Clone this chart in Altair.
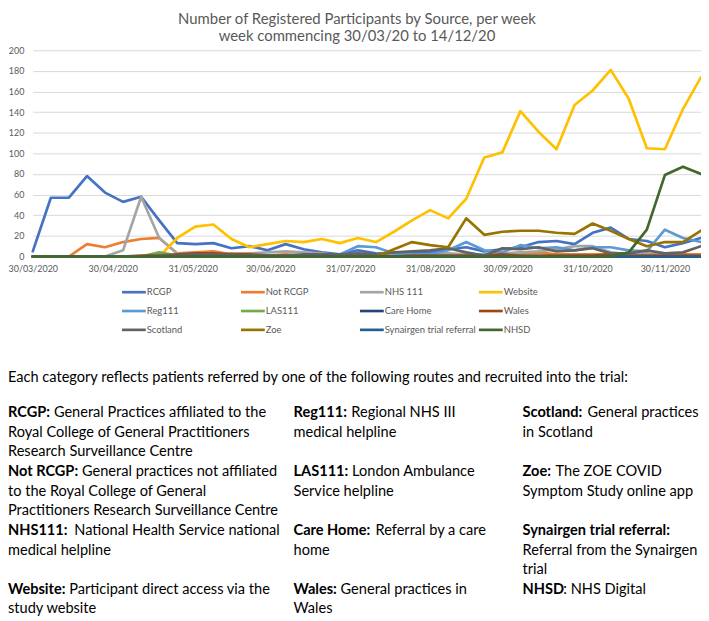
import altair as alt
import pandas as pd

# ---------------- data ----------------
start_date = "2020-03-30"
end_date = "2020-12-14"
n_weeks = 38

series_names = ["RCGP", "Not RCGP", "NHS 111", "Website",
                "Reg111", "LAS111", "Care Home", "Wales",
                "Scotland", "Zoe", "Synairgen trial referral", "NHSD"]
series_colors = ["#4472C4", "#ED7D31", "#A5A5A5", "#FFC000",
                 "#5B9BD5", "#70AD47", "#264478", "#9E480E",
                 "#636363", "#997300", "#255E91", "#43682B"]

rcgp = [5, 57, 57, 78, 62, 53, 58, 35, 13, 12, 13, 8, 10, 6, 12, 7, 4, 2, 6, 3,
        2, 3, 4, 7, 9, 5, 7, 9, 14, 15, 12, 23, 28, 17, 15, 9, 13, 18]
not_rcgp = [0, 0, 0, 12, 9, 14, 17, 18, 3, 4, 5, 2, 1, 1, 2, 1, 1, 0, 1, 1,
            0, 1, 1, 2, 1, 2, 3, 3, 4, 2, 2, 2, 2, 2, 3, 1, 2, 2]
nhs111 = [0, 0, 0, 0, 0, 6, 58, 18, 3, 2, 2, 3, 3, 4, 5, 4, 3, 1, 2, 2,
          2, 1, 2, 3, 2, 2, 3, 4, 5, 7, 10, 10, 4, 2, 2, 1, 1, 1]
website = [0, 0, 0, 0, 0, 0, 0, 0, 18, 29, 31, 17, 9, 12, 15, 14, 17, 13, 18, 14,
           24, 35, 45, 37, 56, 96, 101, 141, 121, 104, 147, 161, 181, 153, 105, 104, 143, 174]
reg111 = [0, 0, 0, 0, 0, 0, 0, 0, 0, 0, 1, 1, 1, 1, 1, 1, 1, 2, 10, 9,
          3, 2, 2, 6, 14, 6, 4, 11, 8, 9, 6, 9, 9, 6, 5, 26, 18, 14]
las111 = [0, 0, 0, 0, 0, 0, 0, 4, 1, 0, 0, 0, 0, 0, 0, 0, 0, 0, 0, 0,
          0, 0, 0, 0, 0, 0, 0, 0, 0, 0, 0, 0, 0, 0, 0, 0, 0, 0]
care_home = [0, 0, 0, 0, 0, 0, 0, 0, 0, 0, 0, 0, 0, 0, 0, 0, 0, 0, 0, 0,
             0, 0, 0, 0, 0, 0, 0, 0, 0, 0, 0, 0, 0, 0, 0, 0, 0, 0]
wales = [0, 0, 0, 0, 0, 0, 1, 1, 2, 3, 3, 2, 2, 1, 1, 1, 1, 1, 1, 1,
         0, 1, 1, 1, 1, 1, 2, 1, 1, 1, 1, 1, 2, 1, 1, 1, 1, 1]
scotland = [0, 0, 0, 0, 0, 0, 0, 1, 1, 2, 2, 1, 1, 1, 1, 2, 2, 2, 3, 2,
            4, 5, 6, 8, 4, 1, 8, 7, 9, 5, 6, 8, 3, 3, 6, 3, 4, 10]
zoe = [0, 0, 0, 0, 0, 0, 0, 0, 0, 0, 0, 0, 0, 0, 0, 0, 0, 0, 0, 0,
       7, 14, 11, 9, 37, 21, 24, 25, 25, 23, 22, 32, 25, 17, 10, 14, 14, 25]
synairgen = [0, 0, 0, 0, 0, 0, 0, 0, 0, 0, 0, 0, 0, 0, 0, 0, 0, 0, 0, 0,
             0, 0, 0, 0, 0, 0, 0, 0, 0, 0, 0, 0, 0, 0, 0, 0, 0, 0]
nhsd = [0, 0, 0, 0, 0, 0, 0, 0, 0, 0, 0, 0, 0, 0, 0, 0, 0, 0, 0, 0,
        0, 0, 0, 0, 0, 0, 0, 0, 0, 0, 0, 0, 0, 4, 26, 79, 87, 80]

series_values = [rcgp, not_rcgp, nhs111, website, reg111, las111, care_home,
                 wales, scotland, zoe, synairgen, nhsd]

x_tick_labels = ["30/03/2020", "30/04/2020", "31/05/2020", "30/06/2020", "31/07/2020",
                 "31/08/2020", "30/09/2020", "31/10/2020", "30/11/2020"]
y_ticks = [0, 20, 40, 60, 80, 100, 120, 140, 160, 180, 200]

title_lines = ["Number of Registered Participants by Source, per week",
               "week commencing 30/03/20 to 14/12/20"]

intro_text = ("Each category reflects patients referred by one of the following "
              "routes and recruited into the trial:")

# (column, first line, bold label, normal lines)
notes = [
    (0, 0, "RCGP:", ["General Practices affiliated to the",
                     "Royal College of General Practitioners",
                     "Research Surveillance Centre"]),
    (0, 3, "Not RCGP:", ["General practices not affiliated",
                         "to the Royal College of General",
                         "Practitioners Research Surveillance Centre"]),
    (0, 6, "NHS111:", ["National Health Service national", "medical helpline"]),
    (0, 9, "Website:", ["Participant direct access via the", "study website"]),
    (1, 0, "Reg111:", ["Regional NHS III", "medical helpline"]),
    (1, 3, "LAS111:", ["London Ambulance", "Service helpline"]),
    (1, 6, "Care Home:", ["Referral by a care", "home"]),
    (1, 9, "Wales:", ["General practices in", "Wales"]),
    (2, 0, "Scotland:", ["General practices", "in Scotland"]),
    (2, 3, "Zoe:", ["The ZOE COVID", "Symptom Study online app"]),
    (2, 6, "Synairgen trial referral:", ["", "Referral from the Synairgen", "trial"]),
    (2, 9, "NHSD", [": NHS Digital"]),
]

# ---------------- layout helpers ----------------
W, H = 674, 208
FONT = "Lato"
BODY_SIZE = 14.7
GRAY = "#595959"

BOLD_EM = {" ": 0.21, ":": 0.27, "R": 0.66, "C": 0.66, "G": 0.70, "P": 0.62, "N": 0.75,
           "H": 0.76, "S": 0.55, "L": 0.52, "A": 0.70, "W": 0.95, "Z": 0.62, "D": 0.74,
           "a": 0.52, "e": 0.54, "o": 0.60, "m": 0.90, "r": 0.39, "t": 0.37, "s": 0.44,
           "i": 0.27, "l": 0.27, "n": 0.58, "d": 0.58, "g": 0.52, "b": 0.58, "c": 0.48,
           "y": 0.51, "k": 0.53}


def bold_width(s, size):
    w = 0.0
    for ch in s:
        if ch.isdigit():
            w += 0.58
        else:
            w += BOLD_EM.get(ch, 0.66 if ch.isupper() else 0.55)
    return w * size


rows = []
for name, vals in zip(series_names, series_values):
    assert len(vals) == n_weeks
    for i, v in enumerate(vals):
        d = (pd.Timestamp(start_date) + pd.Timedelta(days=7 * i)).strftime("%Y-%m-%d")
        rows.append({"date": d, "series": name, "value": v})
df = pd.DataFrame(rows)


def to_dt(s):
    d, m, y = s.split("/")
    return alt.DateTime(year=int(y), month=int(m), date=int(d), utc=True)


def iso_dt(s):
    y, m, d = s.split("-")
    return alt.DateTime(year=int(y), month=int(m), date=int(d), utc=True)


color_scale = alt.Scale(domain=series_names, range=series_colors)

lines = alt.Chart(df).mark_line(strokeWidth=2.7, strokeJoin="round", strokeCap="round").encode(
    x=alt.X("date:T",
            scale=alt.Scale(type="utc", domain=[iso_dt(start_date), iso_dt(end_date)], nice=False),
            axis=alt.Axis(values=[to_dt(s) for s in x_tick_labels],
                          labelExpr="utcFormat(datum.value, '%d/%m/%Y')",
                          title=None, grid=False, ticks=False, tickSize=0,
                          domainColor="#D9D9D9", domainWidth=1,
                          labelFont=FONT, labelFontSize=9, labelColor=GRAY,
                          labelPadding=8, labelOverlap=False, labelFlush=False)),
    y=alt.Y("value:Q", scale=alt.Scale(domain=[0, 200], nice=False),
            axis=alt.Axis(values=y_ticks, title=None, domain=False, ticks=False, tickSize=0,
                          gridColor="#D9D9D9", gridWidth=1,
                          labelFont=FONT, labelFontSize=9, labelColor=GRAY,
                          labelPadding=9)),
    color=alt.Color("series:N", scale=color_scale, legend=None),
)

# legend (Excel style, 4 columns x 3 rows below the axis)
leg = pd.DataFrame({"series": series_names, "idx": list(range(len(series_names)))})
leg["lx"] = 90 + (leg["idx"] % 4) * 120
leg["lx2"] = leg["lx"] + 24
leg["tx"] = leg["lx2"] + 1
leg["ly"] = 244 + (leg["idx"] // 4) * 19

legend_lines = alt.Chart(leg).mark_rule(strokeWidth=2.7).encode(
    x=alt.X("lx:Q", scale=None), x2="lx2:Q", y=alt.Y("ly:Q", scale=None),
    color=alt.Color("series:N", scale=color_scale, legend=None))
legend_text = alt.Chart(leg).mark_text(align="left", baseline="middle", font=FONT,
                                       fontSize=9.5, color=GRAY).encode(
    x=alt.X("tx:Q", scale=None), y=alt.Y("ly:Q", scale=None), text="series:N")

# title
tdf = pd.DataFrame({"text": title_lines, "y": [-32, -14]})
title = alt.Chart(tdf).mark_text(align="center", baseline="middle", font=FONT,
                                 fontSize=15, color=GRAY).encode(
    x=alt.value(W / 2 - 10), y=alt.Y("y:Q", scale=None), text="text:N")

# notes text block
col_x = [-25, 263, 494]
line_y0, line_dy = 366, 19.8
gap = 3.5
bold_rows, norm_rows = [], []
for col, first, label, body in notes:
    x0 = col_x[col]
    y0 = line_y0 + first * line_dy
    bold_rows.append({"text": label, "x": x0, "y": y0})
    for k, t in enumerate(body):
        if not t:
            continue
        if k == 0:
            g = 0 if t.startswith(":") else gap * (2 if label == "NHS111:" else 1)
            x = x0 + bold_width(label, BODY_SIZE) + g
        else:
            x = x0
        norm_rows.append({"text": t, "x": x, "y": y0 + k * line_dy})

intro_df = pd.DataFrame([{"text": intro_text, "x": -25, "y": 331}])
bold_df = pd.DataFrame(bold_rows)
norm_df = pd.DataFrame(norm_rows)

intro = alt.Chart(intro_df).mark_text(align="left", baseline="middle", font=FONT,
                                      fontSize=BODY_SIZE, color="#000000").encode(
    x=alt.X("x:Q", scale=None), y=alt.Y("y:Q", scale=None), text="text:N")
bold_txt = alt.Chart(bold_df).mark_text(align="left", baseline="middle", font=FONT,
                                        fontSize=BODY_SIZE, fontWeight="bold",
                                        color="#000000").encode(
    x=alt.X("x:Q", scale=None), y=alt.Y("y:Q", scale=None), text="text:N")
norm_txt = alt.Chart(norm_df).mark_text(align="left", baseline="middle", font=FONT,
                                        fontSize=BODY_SIZE, color="#000000").encode(
    x=alt.X("x:Q", scale=None), y=alt.Y("y:Q", scale=None), text="text:N")

chart = alt.layer(lines, legend_lines, legend_text, title, intro, bold_txt, norm_txt).properties(
    width=W, height=H,
    autosize=alt.AutoSizeParams(type="none"),
    padding={"left": 25, "top": 40, "right": 0, "bottom": 365},
    background="white",
).configure_view(stroke=None)

chart.save("out.html", embed_options={"renderer": "svg", "actions": False})
